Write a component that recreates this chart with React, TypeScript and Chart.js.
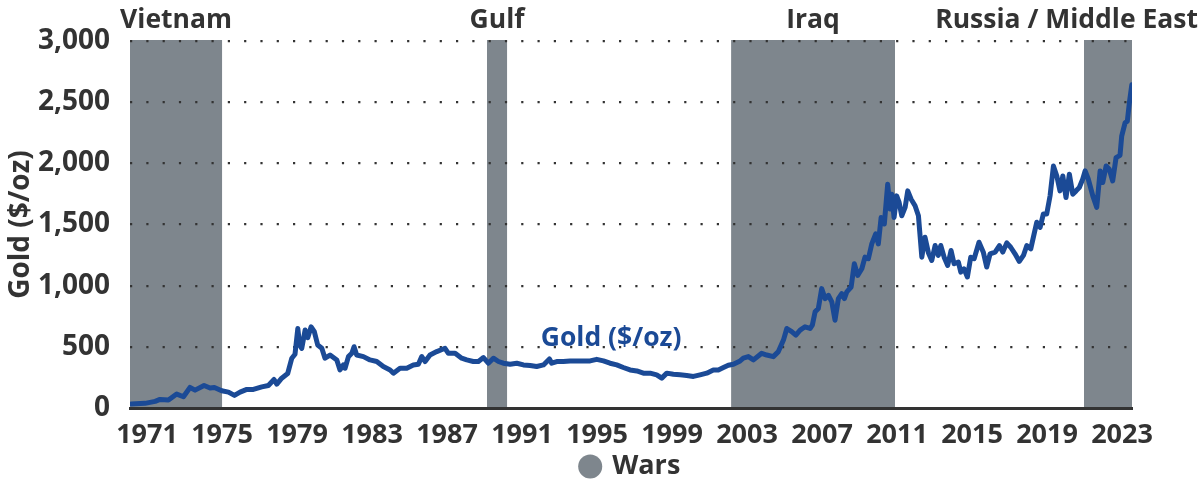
import React, { useEffect, useRef } from 'react';
import { Chart, registerables } from 'chart.js';

Chart.register(...registerables);

// ---- Data ----
const xTickYears = [1971, 1975, 1979, 1983, 1987, 1991, 1995, 1999, 2003, 2007, 2011, 2015, 2019, 2023];
const yTickValues = [0, 500, 1000, 1500, 2000, 2500, 3000];

const goldYears = [
  1970.15, 1970.89, 1971.43, 1971.69, 1972.14, 1972.58, 1972.94, 1973.29, 1973.56, 1974.04,
  1974.36, 1974.59, 1974.98, 1975.34, 1975.66, 1975.96, 1976.32, 1976.67, 1977.12, 1977.47,
  1977.77, 1977.92, 1978.18, 1978.5, 1978.72, 1978.89, 1979.04, 1979.14, 1979.25, 1979.43,
  1979.57, 1979.75, 1979.92, 1980.1, 1980.32, 1980.49, 1980.76, 1981.12, 1981.29, 1981.47,
  1981.56, 1981.74, 1981.92, 1982.04, 1982.18, 1982.54, 1982.89, 1983.25, 1983.6, 1983.96,
  1984.14, 1984.49, 1984.85, 1985.2, 1985.47, 1985.65, 1985.83, 1986.09, 1986.45, 1986.89,
  1987.07, 1987.43, 1987.78, 1988.05, 1988.4, 1988.67, 1988.94, 1989.2, 1989.47, 1989.74,
  1990.0, 1990.36, 1990.72, 1991.07, 1991.43, 1991.78, 1992.14, 1992.46, 1992.58, 1992.85,
  1993.2, 1993.56, 1993.92, 1994.27, 1994.63, 1994.98, 1995.34, 1995.69, 1996.05, 1996.4,
  1996.76, 1997.12, 1997.47, 1997.83, 1998.18, 1998.45, 1998.72, 1999.07, 1999.43, 1999.78,
  2000.14, 2000.49, 2000.85, 2001.2, 2001.47, 2001.74, 2002.0, 2002.27, 2002.63, 2002.8,
  2003.07, 2003.34, 2003.78, 2004.05, 2004.4, 2004.67, 2004.94, 2005.12, 2005.38, 2005.6,
  2005.83, 2006.09, 2006.36, 2006.48, 2006.63, 2006.8, 2006.98, 2007.16, 2007.34, 2007.52,
  2007.69, 2007.87, 2008.05, 2008.19, 2008.32, 2008.55, 2008.72, 2008.9, 2009.12, 2009.29,
  2009.47, 2009.65, 2009.86, 2010.0, 2010.15, 2010.32, 2010.5, 2010.63, 2010.72, 2010.84,
  2010.98, 2011.11, 2011.25, 2011.43, 2011.57, 2011.75, 2011.96, 2012.14, 2012.32, 2012.49,
  2012.67, 2012.85, 2013.03, 2013.2, 2013.33, 2013.51, 2013.7, 2013.88, 2014.04, 2014.27,
  2014.4, 2014.57, 2014.75, 2014.93, 2015.11, 2015.37, 2015.6, 2015.78, 2015.96, 2016.23,
  2016.46, 2016.64, 2016.85, 2017.06, 2017.29, 2017.52, 2017.74, 2017.92, 2018.13, 2018.31,
  2018.45, 2018.63, 2018.8, 2018.98, 2019.16, 2019.34, 2019.52, 2019.69, 2019.84, 2020.01,
  2020.19, 2020.37, 2020.55, 2020.72, 2020.9, 2021.03, 2021.2, 2021.44, 2021.65, 2021.83,
  2021.97, 2022.15, 2022.32, 2022.5, 2022.68, 2022.89, 2022.98, 2023.16, 2023.28, 2023.39,
  2023.52,
];

const goldPrices = [
  33, 38, 54, 70, 65, 114, 92, 168, 146, 184,
  163, 168, 141, 130, 103, 130, 152, 152, 173, 184,
  233, 195, 244, 282, 407, 439, 650, 515, 488, 637,
  575, 664, 624, 515, 488, 407, 433, 393, 311, 352,
  325, 420, 447, 501, 433, 420, 393, 380, 339, 311,
  285, 325, 325, 352, 358, 420, 380, 433, 461, 488,
  447, 447, 407, 393, 380, 380, 412, 366, 407, 380,
  366, 358, 366, 352, 347, 339, 352, 401, 366, 380,
  380, 385, 385, 385, 385, 398, 385, 366, 352, 331,
  311, 303, 285, 285, 271, 244, 285, 276, 271, 266,
  258, 271, 285, 311, 311, 331, 350, 358, 385, 407,
  420, 393, 447, 433, 420, 461, 555, 650, 624, 596,
  637, 664, 650, 677, 786, 813, 976, 894, 921, 867,
  718, 894, 935, 894, 949, 989, 1179, 1084, 1138, 1233,
  1220, 1341, 1423, 1341, 1558, 1504, 1829, 1626, 1748, 1558,
  1734, 1680, 1572, 1640, 1775, 1707, 1653, 1572, 1233, 1396,
  1270, 1206, 1328, 1247, 1328, 1233, 1165, 1287, 1179, 1193,
  1111, 1138, 1071, 1233, 1220, 1355, 1274, 1152, 1260, 1274,
  1328, 1274, 1350, 1314, 1260, 1198, 1247, 1328, 1301, 1423,
  1518, 1477, 1585, 1585, 1734, 1978, 1897, 1775, 1897, 1720,
  1911, 1748, 1775, 1802, 1870, 1938, 1870, 1734, 1640, 1938,
  1843, 1978, 1951, 1856, 2046, 2065, 2222, 2331, 2344, 2494,
  2642,
];

const warNames = ['Vietnam', 'Gulf', 'Iraq', 'Russia / Middle East'];
const warStarts = [1965, 1989.13, 2002.15, 2020.97];
const warEnds = [1975.0, 1990.2, 2010.89, 2026];

// ---- Styling ----
const X_MIN = 1970.09;
const X_MAX = 2023.53;
const GOLD_LABEL_X = 1995.75;
const GOLD_LABEL_Y = 570;
const FONT = "'Open Sans', 'Noto Sans', sans-serif";
const TEXT = '#333333';
const BLUE = '#1b4a96';
const GRAY = '#7e868d';

const warPlugin = {
  id: 'warBands',
  beforeDraw(chart: any) {
    const { ctx, chartArea: a, scales } = chart;
    const x = scales.x;
    ctx.save();
    ctx.fillStyle = GRAY;
    const centers: number[] = [];
    warStarts.forEach((s, i) => {
      const x0 = Math.max(a.left, x.getPixelForValue(s));
      const x1 = Math.min(a.right, x.getPixelForValue(warEnds[i]));
      ctx.fillRect(x0, a.top - 1, x1 - x0, a.bottom - a.top + 1);
      centers.push((x0 + x1) / 2);
    });
    ctx.fillStyle = TEXT;
    ctx.font = `bold 26.5px ${FONT}`;
    ctx.textAlign = 'center';
    ctx.textBaseline = 'middle';
    warNames.forEach((n, i) => {
      const w = ctx.measureText(n).width;
      let cx = centers[i];
      cx = Math.min(cx, chart.width - 6 - w / 2);
      cx = Math.max(cx, 4 + w / 2);
      ctx.fillText(n, cx, 20);
    });
    ctx.restore();
  },
  afterDatasetsDraw(chart: any) {
    const { ctx, scales } = chart;
    ctx.save();
    ctx.fillStyle = BLUE;
    ctx.font = `bold 26.5px ${FONT}`;
    ctx.textAlign = 'center';
    ctx.textBaseline = 'middle';
    ctx.fillText('Gold ($/oz)', scales.x.getPixelForValue(GOLD_LABEL_X), scales.y.getPixelForValue(GOLD_LABEL_Y));
    ctx.restore();
  },
};

export default function App() {
  const ref = useRef<HTMLCanvasElement>(null);
  useEffect(() => {
    document.body.style.margin = '0';
    Chart.defaults.font.family = FONT;
    const chart = new Chart(ref.current as HTMLCanvasElement, {
      type: 'line',
      data: {
        datasets: [
          {
            label: 'Gold ($/oz)',
            data: goldYears.map((yr, i) => ({ x: yr, y: goldPrices[i] })),
            borderColor: BLUE,
            backgroundColor: BLUE,
            borderWidth: 5,
            pointRadius: 0,
            tension: 0,
            fill: false,
            borderJoinStyle: 'round',
            borderCapStyle: 'round',
          },
        ],
      },
      options: {
        responsive: false,
        animation: false,
        devicePixelRatio: 1,
        layout: { padding: { top: 41, right: 72, bottom: -9, left: 0 } },
        plugins: {
          tooltip: { enabled: false },
          legend: {
            display: true,
            position: 'bottom',
            fullSize: false,
            labels: {
              usePointStyle: true,
              boxWidth: 17,
              boxHeight: 17,
              padding: 10,
              color: TEXT,
              font: { size: 27, weight: 'bold', family: FONT },
              generateLabels: () => [
                {
                  text: 'Wars',
                  fillStyle: GRAY,
                  strokeStyle: GRAY,
                  lineWidth: 0,
                  pointStyle: 'circle',
                  hidden: false,
                  fontColor: TEXT,
                },
              ],
            },
          },
        },
        scales: {
          x: {
            type: 'linear',
            min: X_MIN,
            max: X_MAX,
            afterBuildTicks: (s: any) => {
              s.ticks = xTickYears.map((v) => ({ value: v }));
            },
            afterFit: (s: any) => {
              s.height = 35;
            },
            ticks: {
              autoSkip: false,
              maxRotation: 0,
              padding: 11,
              color: TEXT,
              font: { size: 27, weight: 'bold', family: FONT },
              callback: (v: any) => String(v),
            },
            grid: { display: false, drawTicks: false },
            border: { display: true, color: '#333333', width: 3 },
          },
          y: {
            type: 'linear',
            min: 0,
            max: 3000,
            afterBuildTicks: (s: any) => {
              s.ticks = yTickValues.map((v) => ({ value: v }));
            },
            afterFit: (s: any) => {
              s.width = 130;
            },
            ticks: {
              padding: 20,
              color: TEXT,
              font: { size: 28, weight: 'bold', family: FONT },
              callback: (v: any) => Number(v).toLocaleString('en-US'),
            },
            grid: { color: '#333333', lineWidth: 2.2, drawTicks: false },
            border: { display: false, dash: [2.2, 14.1] },
            title: {
              display: true,
              text: 'Gold ($/oz)',
              color: TEXT,
              font: { size: 28, weight: 'bold', family: FONT },
              padding: { top: 4, bottom: 0 },
            },
          },
        },
      } as any,
      plugins: [warPlugin],
    });
    return () => chart.destroy();
  }, []);
  return (
    <div style={{ width: 1204, height: 481 }}>
      <canvas ref={ref} width={1204} height={481} style={{ display: 'block' }} />
    </div>
  );
}
